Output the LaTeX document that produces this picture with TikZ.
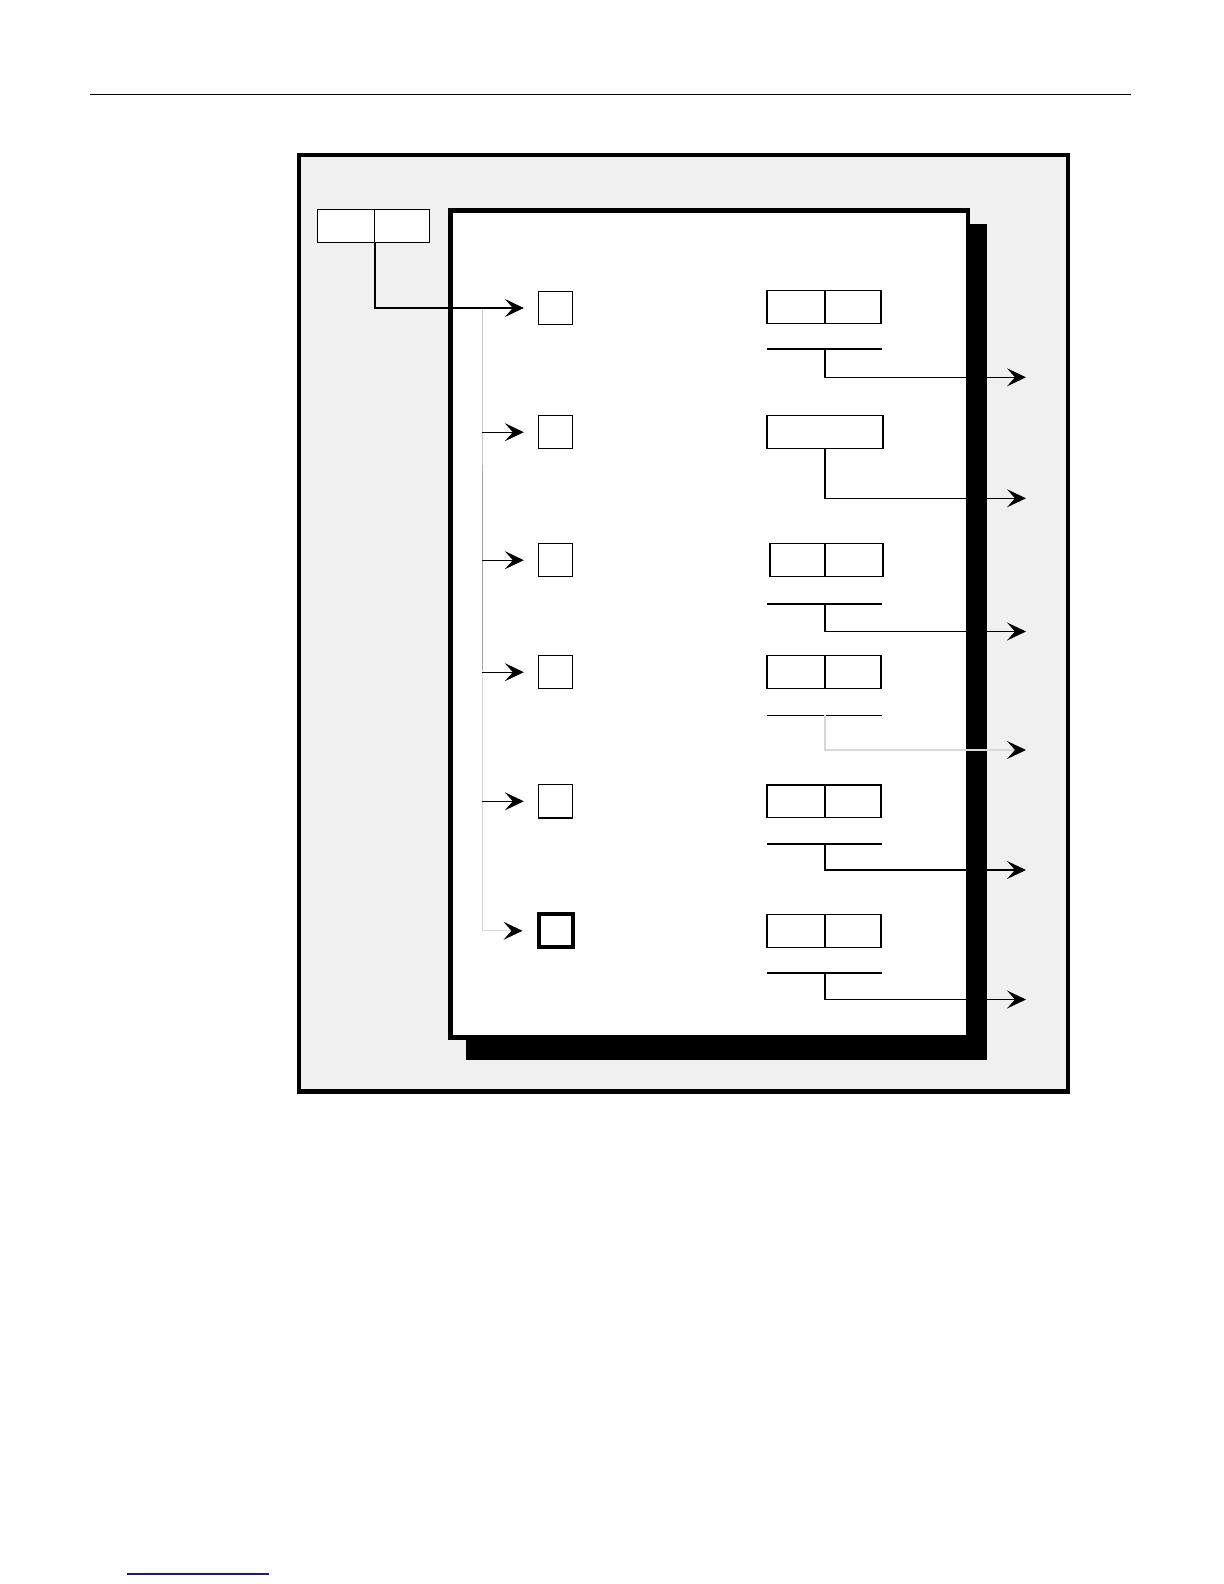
\documentclass[tikz,border=0pt]{standalone}
\usetikzlibrary{arrows.meta,calc}
\definecolor{bgfill}{HTML}{F0F0F0}
\definecolor{gA}{HTML}{C8C8C8}
\definecolor{gB}{HTML}{A8A8A8}
\definecolor{gC}{HTML}{D8D8D8}
\definecolor{footblue}{HTML}{1A1A8C}
\begin{document}
\begin{tikzpicture}[x=0.5pt,y=-0.5pt,
  thinline/.style={line width=0.65pt},
  cell/.style={draw,line width=0.65pt,fill=white,inner sep=0pt,minimum height=16.4pt},
  cellL/.style={cell,minimum width=29pt},
  cellR/.style={cell,minimum width=28pt},
  sq/.style={cell,minimum width=17pt,minimum height=16.6pt},
  sqthick/.style={sq,line width=2pt},
  tip/.style={-{Stealth[length=9.5pt,width=9pt,inset=4pt,color=black]}},
  conn/.style={thinline,tip},
  inconn/.style={conn,shorten >=7pt}
]
\useasboundingbox (0,0) rectangle (1224,1584);

% page rules
\coordinate (ruleL) at (90,94.5);
\coordinate (ruleR) at (1131,94.5);
\draw[line width=0.6pt] (ruleL) -- (ruleR);
\coordinate (footL) at (127,1574);
\coordinate (footR) at (269,1574);
\draw[line width=0.7pt,footblue] (footL) -- (footR);

% frames
\draw[line width=2.3pt,fill=bgfill] (299,155) rectangle (1068,1091.5);
\fill[black] (466,224) rectangle (987,1060);
\draw[line width=2.2pt,fill=white] (450.3,210.5) rectangle (967.7,1037.5);

% top-left double box
\node[cell,minimum width=28.5pt] (tl) at (345.8,225.8) {};
\node[cell,minimum width=27.5pt] (tr) at (401.8,225.8) {};

% left small boxes
\node[sq] (s1) at (555.5,308) {};
\node[sq] (s2) at (555.5,432.2) {};
\node[sq] (s3) at (555.5,560.2) {};
\node[sq] (s4) at (555.5,672.2) {};
\node[sq] (s5) at (555.5,801.3) {};
\node[sqthick] (s6) at (555.5,930.8) {};

% gray bus on the left
\coordinate (g1) at (482.3,308);
\coordinate (gk1) at (482.3,465);
\coordinate (gk2) at (482.3,670);
\coordinate (g2) at (482.3,432.2);
\coordinate (g3) at (482.3,560.2);
\coordinate (g4) at (482.3,672.2);
\coordinate (g5) at (482.3,801.3);
\coordinate (g6) at (482.3,930.8);
\draw[thinline,gA] (g1) -- (gk1);
\draw[thinline,gB] (gk1) -- (gk2);
\draw[thinline,gC] (gk2) -- (g6);

% left arrows
\draw[inconn] (tl.south east) |- (s1.west);
\draw[inconn] (g2) -- (s2.west);
\draw[inconn] (g3) -- (s3.west);
\draw[inconn] (g4) -- (s4.west);
\draw[inconn] (g5) -- (s5.west);
\draw[inconn,gC] (g6) -- (s6.west);

% right boxes
\node[cellL] (r1a) at (796,306.8) {};
\node[cellR] (r1b) at (853,306.8) {};
\node[cell,minimum width=58pt] (r2) at (825,432.2) {};
\node[cell,minimum width=27.5pt] (r3a) at (797.5,560.2) {};
\node[cell,minimum width=29pt] (r3b) at (854,560.2) {};
\node[cellL] (r4a) at (796,672.2) {};
\node[cellR] (r4b) at (853,672.2) {};
\node[cellL] (r5a) at (796,801.3) {};
\node[cellR] (r5b) at (853,801.3) {};
\node[cellL] (r6a) at (796,930.8) {};
\node[cellR] (r6b) at (853,930.8) {};

% underlines
\coordinate (u1l) at (767,349);   \coordinate (u1r) at (882,349);   \coordinate (u1m) at (825,349);
\coordinate (u3l) at (767,604);   \coordinate (u3r) at (882,604);   \coordinate (u3m) at (825,604);
\coordinate (u4l) at (767,715.3); \coordinate (u4r) at (882,715.3); \coordinate (u4m) at (825,715.3);
\coordinate (u5l) at (767,844);   \coordinate (u5r) at (882,844);   \coordinate (u5m) at (825,844);
\coordinate (u6l) at (767,973);   \coordinate (u6r) at (882,973);   \coordinate (u6m) at (825,973);
\draw[thinline] (u1l) -- (u1r);
\draw[thinline] (u3l) -- (u3r);
\draw[thinline] (u4l) -- (u4r);
\draw[thinline] (u5l) -- (u5r);
\draw[thinline] (u6l) -- (u6r);

% outputs
\coordinate (o1) at (1026,377.3);
\coordinate (o2) at (1026,498.3);
\coordinate (o3) at (1026,631.5);
\coordinate (o4) at (1026,750);
\coordinate (o5) at (1026,870);
\coordinate (o6) at (1026,999.5);
\draw[conn] (u1m) |- (o1);
\draw[conn] (r2.south) |- (o2);
\draw[conn] (u3m) |- (o3);
\draw[conn,gC] (u4m) |- (o4);
\draw[conn] (u5m) |- (o5);
\draw[conn] (u6m) |- (o6);
\end{tikzpicture}
\end{document}
